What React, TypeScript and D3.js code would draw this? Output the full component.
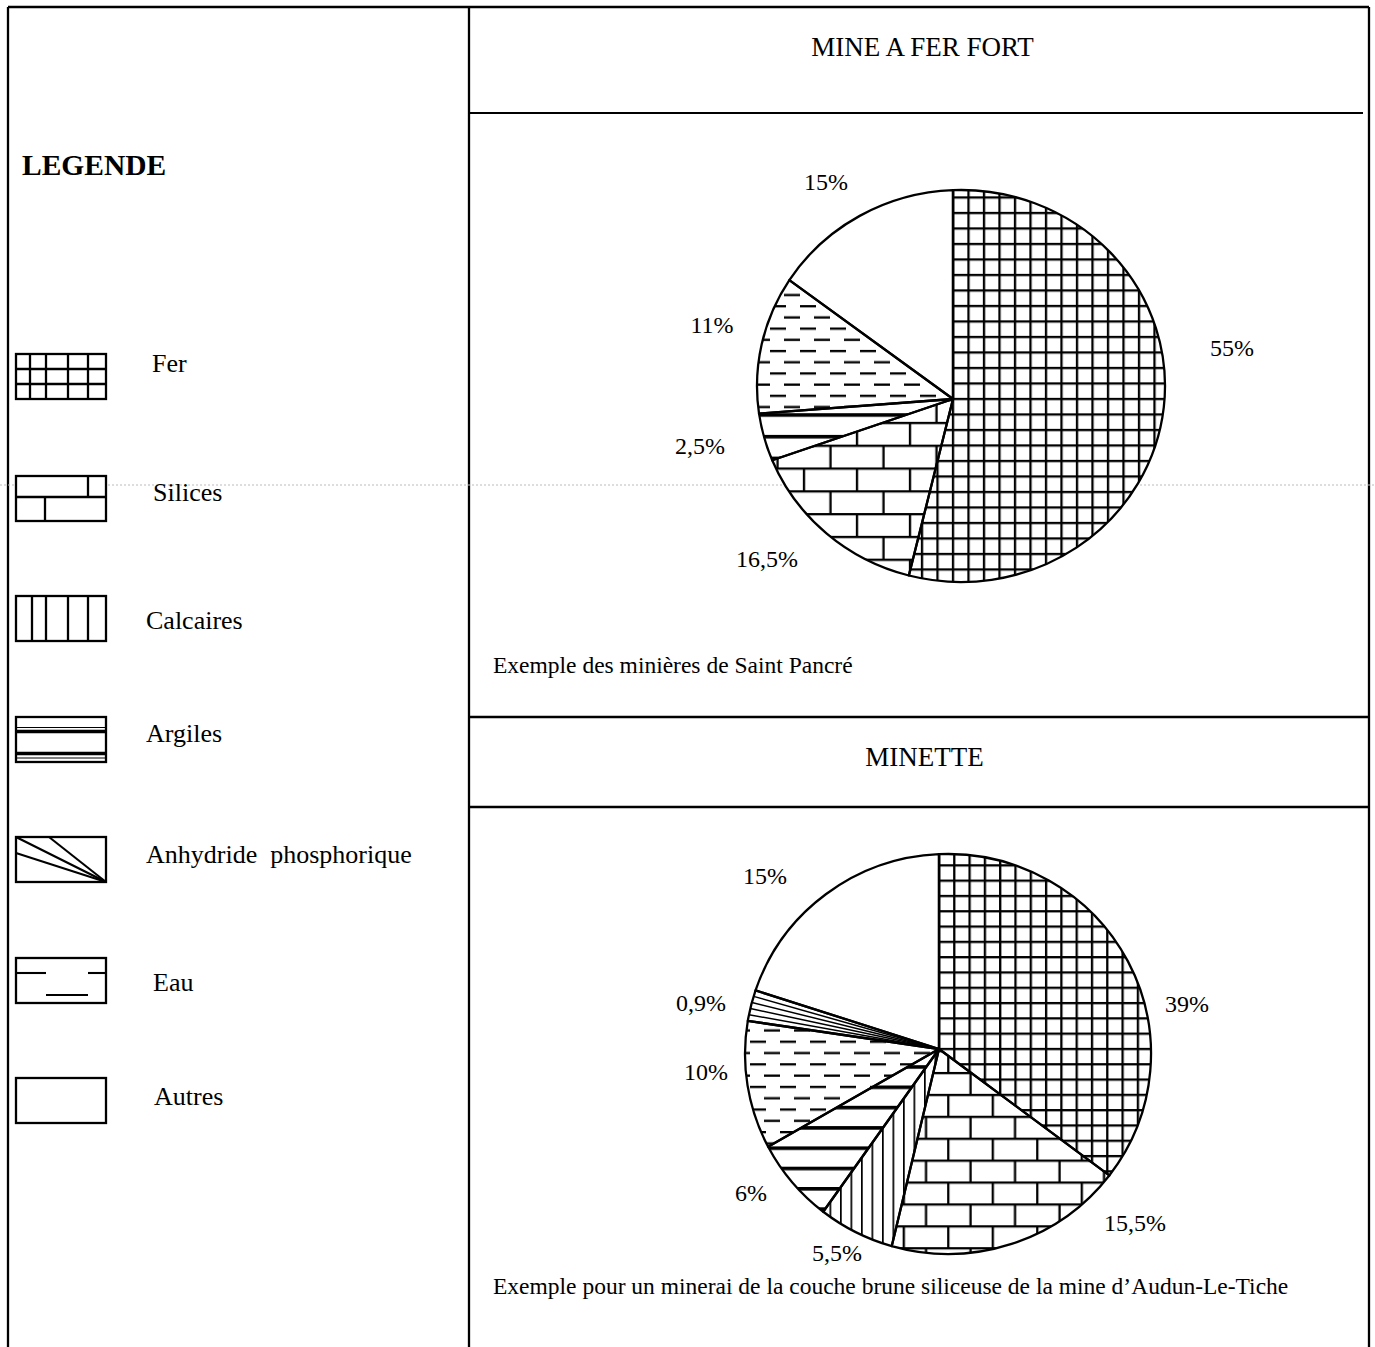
import React from "react";
import * as d3 from "d3";

// ---------- data ----------
const legendCategories = ["Fer", "Silices", "Calcaires", "Argiles", "Anhydride  phosphorique", "Eau", "Autres"];
const legendKeys = ["fer", "silices", "calcaires", "argiles", "anhydride", "eau", "autres"];
// slice order, clockwise from 12 o'clock
const sliceKeys = ["fer", "silices", "calcaires", "argiles", "eau", "anhydride", "autres"];
// angular shares as drawn in the picture (percent of the disc)
const mineFerFortShares = [53.9, 15.9, 0, 4.0, 11.2, 0, 15.0];
const mineFerFortLabels = ["55%", "16,5%", "", "2,5%", "11%", "", "15%"];
const minetteShares = [35.2, 18.6, 6.1, 6.9, 10.6, 2.6, 20.1];
const minetteLabels = ["39%", "15,5%", "5,5%", "6%", "10%", "0,9%", "15%"];

const titles = ["MINE A FER FORT", "MINETTE"];
const captions = [
  "Exemple des minières de Saint Pancré",
  "Exemple pour un minerai de la couche brune siliceuse de la mine d\u2019Audun-Le-Tiche",
];

// ---------- layout ----------
const W = 1375;
const H = 1347;
const FONT = "'Liberation Serif', 'Times New Roman', serif";

const pieLayouts = [
  {
    id: "p1",
    hub: { x: 953, y: 399 },
    ell: { cx: 961, cy: 386, rx: 204, ry: 196 },
    labelOffsets: [[279, -51], [-186, 160], [0, 0], [-253, 47], [-241, -74], [0, 0], [-127, -217]],
    fer: { size: 15.5, ox: 953, oy: 399 },
    silices: { bw: 53, bh: 22.8, ox: 857, oy: 423 },
    calcaires: { gap: 10.5, ox: 840 },
    argiles: { gap: 21.7, oy: 415 },
    eau: { w: 30, h: 22.4, ox: 770, oy: 351 },
    titleY: 47,
    captionY: 665,
  },
  {
    id: "p2",
    hub: { x: 939, y: 1049 },
    ell: { cx: 948, cy: 1054, rx: 203, ry: 200 },
    labelOffsets: [[248, -45], [196, 174], [-102, 204], [-188, 144], [-233, 23], [-238, -46], [-174, -173]],
    fer: { size: 15.3, ox: 939, oy: 1049 },
    silices: { bw: 44.5, bh: 21.9, ox: 948.3, oy: 1095 },
    calcaires: { gap: 10.5, ox: 840 },
    argiles: { gap: 20.3, oy: 1067 },
    eau: { w: 30, h: 22.6, ox: 750, oy: 1041.7 },
    titleY: 47,
    captionY: 665,
  },
];
pieLayouts[1].titleY = 757;
pieLayouts[1].captionY = 1286;

const titleCenters = [922.5, 924.5];
const legendSwatchY = [354, 476, 596, 717, 837, 958, 1078];
const legendLabelPos = [[152, 363], [153, 492], [146, 620], [146, 733], [146, 854], [153, 982], [154, 1096]];

// ---------- geometry helpers ----------
type Pt = [number, number];
function rayToEllipse(hub: { x: number; y: number }, ell: any, a: number): Pt {
  const dx = Math.sin(a);
  const dy = -Math.cos(a);
  const ox = hub.x - ell.cx;
  const oy = hub.y - ell.cy;
  const rx2 = ell.rx * ell.rx;
  const ry2 = ell.ry * ell.ry;
  const A = (dx * dx) / rx2 + (dy * dy) / ry2;
  const B = 2 * ((ox * dx) / rx2 + (oy * dy) / ry2);
  const C = (ox * ox) / rx2 + (oy * oy) / ry2 - 1;
  const t = (-B + Math.sqrt(B * B - 4 * A * C)) / (2 * A);
  return [hub.x + t * dx, hub.y + t * dy];
}

function slicePath(L: any, a0: number, a1: number): string {
  const p0 = rayToEllipse(L.hub, L.ell, a0);
  const p1 = rayToEllipse(L.hub, L.ell, a1);
  const th = (p: Pt) => Math.atan2((p[1] - L.ell.cy) / L.ell.ry, (p[0] - L.ell.cx) / L.ell.rx);
  let delta = th(p1) - th(p0);
  while (delta < 0) delta += 2 * Math.PI;
  const large = delta > Math.PI ? 1 : 0;
  return `M${L.hub.x},${L.hub.y}L${p0[0]},${p0[1]}A${L.ell.rx},${L.ell.ry} 0 ${large} 1 ${p1[0]},${p1[1]}Z`;
}

const SW = 2.3;

function PiePatterns({ L }: { L: any }) {
  const f = L.fer;
  const s = L.silices;
  const c = L.calcaires;
  const a = L.argiles;
  const e = L.eau;
  return (
    <>
      <pattern id={`fer-${L.id}`} patternUnits="userSpaceOnUse" width={f.size} height={f.size} x={f.ox - SW / 2} y={f.oy - SW / 2}>
        <rect x={0} y={0} width={f.size} height={SW} fill="#000" />
        <rect x={0} y={0} width={SW} height={f.size} fill="#000" />
      </pattern>
      <pattern id={`silices-${L.id}`} patternUnits="userSpaceOnUse" width={s.bw} height={s.bh * 2} x={s.ox - SW / 2} y={s.oy - SW / 2}>
        <rect x={0} y={0} width={s.bw} height={SW} fill="#000" />
        <rect x={0} y={s.bh} width={s.bw} height={SW} fill="#000" />
        <rect x={0} y={0} width={SW} height={s.bh} fill="#000" />
        <rect x={s.bw / 2} y={s.bh} width={SW} height={s.bh} fill="#000" />
      </pattern>
      <pattern id={`calcaires-${L.id}`} patternUnits="userSpaceOnUse" width={c.gap} height={20} x={c.ox} y={0}>
        <rect x={0} y={0} width={1.7} height={20} fill="#000" />
      </pattern>
      <pattern id={`argiles-${L.id}`} patternUnits="userSpaceOnUse" width={20} height={a.gap} x={0} y={a.oy - 1.8}>
        <rect x={0} y={0} width={20} height={3.6} fill="#000" />
      </pattern>
      <pattern id={`eau-${L.id}`} patternUnits="userSpaceOnUse" width={e.w} height={e.h} x={e.ox} y={e.oy - 1.1}>
        <rect x={0} y={0} width={16} height={2.3} fill="#000" />
        <rect x={14} y={e.h / 2} width={16} height={2.3} fill="#000" />
      </pattern>
    </>
  );
}

function Pie({ L, shares, labels }: { L: any; shares: number[]; labels: string[] }) {
  const arcs = d3
    .pie<number>()
    .sort(null)
    .startAngle(0)
    .endAngle(2 * Math.PI)(shares);
  return (
    <g>
      {arcs.map((d, i) => {
        if (d.value <= 0) return null;
        const key = sliceKeys[i];
        const fill = key === "autres" || key === "anhydride" ? "#fff" : `url(#${key}-${L.id})`;
        const extra: JSX.Element[] = [];
        if (key === "anhydride") {
          const n = 4;
          for (let k = 1; k <= n; k++) {
            const ang = d.startAngle + ((d.endAngle - d.startAngle) * k) / (n + 1);
            const p = rayToEllipse(L.hub, L.ell, ang);
            extra.push(<line key={k} x1={L.hub.x} y1={L.hub.y} x2={p[0]} y2={p[1]} stroke="#000" strokeWidth={1.5} />);
          }
        }
        return (
          <g key={key}>
            <path d={slicePath(L, d.startAngle, d.endAngle)} fill="#fff" />
            <path d={slicePath(L, d.startAngle, d.endAngle)} fill={fill} />
            {extra}
          </g>
        );
      })}
      {arcs.map((d, i) =>
        d.value <= 0 ? null : (
          <path key={`o${i}`} d={slicePath(L, d.startAngle, d.endAngle)} fill="none" stroke="#000" strokeWidth={2.3} strokeLinejoin="round" />
        )
      )}
      {labels.map((t, i) =>
        t ? (
          <text key={`t${i}`} x={L.hub.x + L.labelOffsets[i][0]} y={L.hub.y + L.labelOffsets[i][1]} textAnchor="middle" dy="0.35em" fontSize={24} fontFamily={FONT}>
            {t}
          </text>
        ) : null
      )}
    </g>
  );
}

function LegendSwatch({ k, x, y }: { k: string; x: number; y: number }) {
  const w = 90;
  const h = 45;
  const st = { stroke: "#000", strokeWidth: 2.3, fill: "none" } as const;
  const lines: JSX.Element[] = [];
  const ln = (x1: number, y1: number, x2: number, y2: number, sw = 2.3) =>
    lines.push(<line key={`${x1}-${y1}-${x2}-${y2}`} x1={x + x1} y1={y + y1} x2={x + x2} y2={y + y2} stroke="#000" strokeWidth={sw} />);
  if (k === "fer") {
    [14, 30, 52, 72].forEach((v) => ln(v, 0, v, h));
    [15, 30].forEach((v) => ln(0, v, w, v));
  } else if (k === "silices") {
    ln(0, 21, w, 21);
    ln(72, 0, 72, 21);
    ln(29, 21, 29, h);
  } else if (k === "calcaires") {
    [16, 30, 52, 72].forEach((v) => ln(v, 0, v, h));
  } else if (k === "argiles") {
    ln(0, 10.5, w, 10.5, 1.2);
    ln(0, 14.5, w, 14.5, 3.6);
    ln(0, 36.5, w, 36.5, 3.6);
    ln(0, 41, w, 41, 1.2);
  } else if (k === "anhydride") {
    ln(w, h, 0, 0, 2.1);
    ln(w, h, 33, 0, 2.1);
    ln(w, h, 0, 16, 2.1);
  } else if (k === "eau") {
    ln(0, 15, 30, 15, 2.1);
    ln(72, 15, w, 15, 2.1);
    ln(30, 37, 72, 37, 2.1);
  }
  return (
    <g>
      <rect x={x} y={y} width={w} height={h} fill="#fff" stroke="none" />
      {lines}
      <rect x={x} y={y} width={w} height={h} {...st} />
    </g>
  );
}

export default function App() {
  return (
    <svg width={W} height={H} viewBox={`0 0 ${W} ${H}`} style={{ position: "absolute", left: 0, top: 0, display: "block", background: "#fff" }}>
      <defs>
        {pieLayouts.map((L) => (
          <PiePatterns key={L.id} L={L} />
        ))}
      </defs>
      <rect x={0} y={0} width={W} height={H} fill="#fff" />

      {/* frame */}
      <g stroke="#000" strokeWidth={2.3} fill="none">
        <line x1={8} y1={7} x2={1369} y2={7} />
        <line x1={8} y1={7} x2={8} y2={H} />
        <line x1={469} y1={7} x2={469} y2={H} />
        <line x1={1369} y1={7} x2={1369} y2={H} />
        <line x1={469} y1={113} x2={1363} y2={113} strokeWidth={1.9} />
        <line x1={469} y1={717} x2={1369} y2={717} />
        <line x1={469} y1={807} x2={1369} y2={807} />
      </g>
      {/* scan artefact: faint dotted line */}
      <line x1={0} y1={485} x2={W} y2={485} stroke="#bbb" strokeWidth={1} strokeDasharray="2,2" />

      {/* legend */}
      <text x={22} y={165} dy="0.35em" fontSize={29.5} fontWeight="bold" fontFamily={FONT}>
        LEGENDE
      </text>
      {legendKeys.map((k, i) => (
        <g key={k}>
          <LegendSwatch k={k} x={16} y={legendSwatchY[i]} />
          <text x={legendLabelPos[i][0]} y={legendLabelPos[i][1]} dy="0.35em" fontSize={26} fontFamily={FONT} style={{ whiteSpace: "pre" }}>
            {legendCategories[i]}
          </text>
        </g>
      ))}

      {/* pies */}
      {pieLayouts.map((L, pi) => (
        <g key={L.id}>
          <text x={titleCenters[pi]} y={L.titleY} dy="0.35em" textAnchor="middle" fontSize={27} fontFamily={FONT}>
            {titles[pi]}
          </text>
          <Pie L={L} shares={pi === 0 ? mineFerFortShares : minetteShares} labels={pi === 0 ? mineFerFortLabels : minetteLabels} />
          <text x={493} y={L.captionY} dy="0.35em" fontSize={23.5} fontFamily={FONT}>
            {captions[pi]}
          </text>
        </g>
      ))}
    </svg>
  );
}
